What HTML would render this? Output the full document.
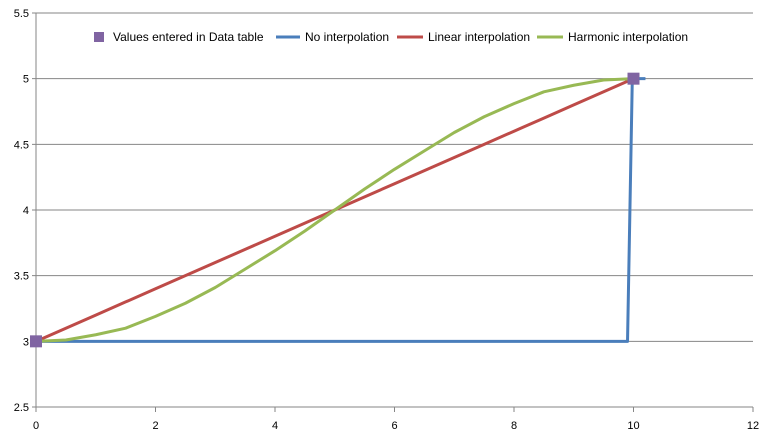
<!DOCTYPE html>
<html><head><meta charset="utf-8"><style>
html,body{margin:0;padding:0;background:#fff;}
svg{display:block;font-family:"Liberation Sans",sans-serif;font-size:11px;}
.lg{font-size:12px;}
</style></head><body>
<svg id="chart" width="765" height="436">
<g id="grid"></g>
<g id="yaxis"></g>
<g id="xaxis"></g>
<g id="series"></g>
<g class="lg">
 <rect x="94" y="32" width="10" height="10" fill="#8064a2"/>
 <text x="113" y="41" fill="#000">Values entered in Data table</text>
 <line x1="276" y1="37" x2="300" y2="37" stroke="#4a7ebb" stroke-width="3"/>
 <text x="305" y="41">No interpolation</text>
 <line x1="397" y1="37" x2="423" y2="37" stroke="#be4b48" stroke-width="3"/>
 <text x="428" y="41">Linear interpolation</text>
 <line x1="537" y1="37" x2="563" y2="37" stroke="#98b954" stroke-width="3"/>
 <text x="568" y="41">Harmonic interpolation</text>
</g>
</svg>
<script>
const xTicks=[0,2,4,6,8,10,12];
const yTicks=[2.5,3,3.5,4,4.5,5,5.5];
const stepX=[0,9.9,9.98,10.2];
const stepY=[3,3,5,5];
const interpX=[0,0.5,1,1.5,2,2.5,3,3.5,4,4.5,5,5.5,6,6.5,7,7.5,8,8.5,9,9.5,10];
const linearY=[3,3.1,3.2,3.3,3.4,3.5,3.6,3.7,3.8,3.9,4,4.1,4.2,4.3,4.4,4.5,4.6,4.7,4.8,4.9,5];
const harmonicY=[3,3.01,3.05,3.1,3.19,3.29,3.41,3.55,3.69,3.84,4,4.16,4.31,4.45,4.59,4.71,4.81,4.9,4.95,4.99,5];
const pointsX=[0,10];
const pointsY=[3,5];
const NS="http://www.w3.org/2000/svg";
const X0=36,X1=753,Y0=407,Y1=13;
const sx=v=>X0+(v-0)/(12-0)*(X1-X0);
const sy=v=>Y0-(v-2.5)/(5.5-2.5)*(Y0-Y1);
function mk(t,a,p){const e=document.createElementNS(NS,t);for(const k in a)e.setAttribute(k,a[k]);p.appendChild(e);return e;}
const grid=document.getElementById('grid'),ya=document.getElementById('yaxis'),xa=document.getElementById('xaxis'),ser=document.getElementById('series');
yTicks.forEach(v=>{
 const l=mk('line',{x1:X0-4,x2:X1,y1:sy(v),y2:sy(v),stroke:'#868686','stroke-width':1},grid);
 
 
 const t=mk('text',{x:X0-7,y:sy(v)+4,'text-anchor':'end'},ya);t.textContent=String(v);
 
 
});
const ax=mk('line',{x1:X0,x2:X0,y1:Y1,y2:Y0,stroke:'#868686'},ya);


xTicks.forEach(v=>{
 const l=mk('line',{x1:sx(v),x2:sx(v),y1:Y0,y2:Y0+5,stroke:'#868686'},xa);
 
 
 const t=mk('text',{x:sx(v),y:Y0+22,'text-anchor':'middle'},xa);t.textContent=String(v);
 
 
});
function line(xs,ys,c,name){
 const p=mk('polyline',{points:xs.map((x,i)=>sx(x)+','+sy(ys[i])).join(' '),fill:'none',stroke:c,'stroke-width':3,'stroke-linejoin':'round'},ser);
 
 
}
line(stepX,stepY,'#4a7ebb','no-interpolation-line');
line(interpX,linearY,'#be4b48','linear-interpolation-line');
line(interpX,harmonicY,'#98b954','harmonic-interpolation-line');
pointsX.forEach((x,i)=>{
 const r=mk('rect',{x:sx(x)-6,y:sy(pointsY[i])-6,width:12,height:12,fill:'#8064a2'},ser);
 
 
});
</script>
</body></html>
